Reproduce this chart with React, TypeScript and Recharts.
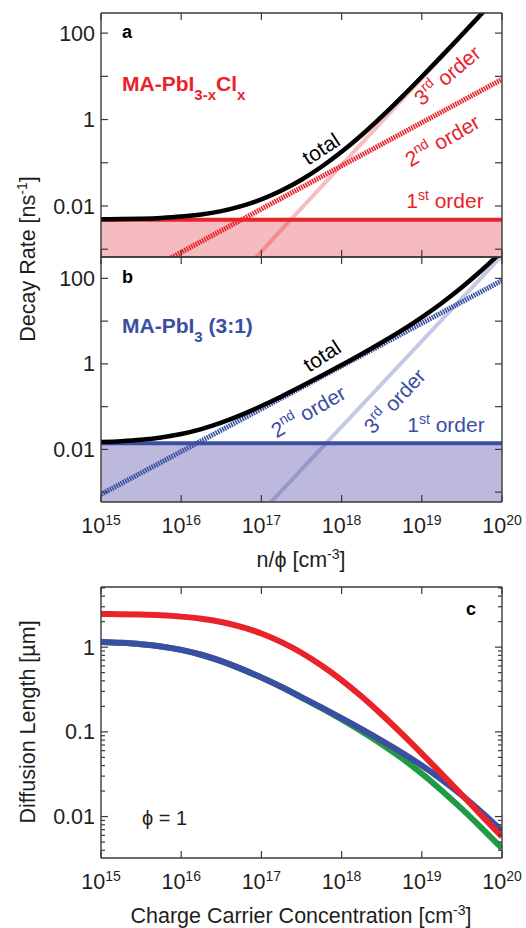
import React from 'react';
import { ComposedChart, Line, Area, XAxis, YAxis } from 'recharts';

const FONT = '"Liberation Sans", Arial, Helvetica, sans-serif';
const AXIS = '#3a3a3a';
const INK = '#1e1e1e';
const RED = '#e8232a';
const BLUE = '#3a4ea3';
const GREEN = '#1f9a45';
const PINK = '#f6bbbe';
const LAVENDER = '#bcb9dc';
const FS = 21.5;
const SUP = 14;

// carrier density grid (quarter decades) and end points for straight lines
const N = [
  1e15, 1.78e15, 3.16e15, 5.62e15, 1e16, 1.78e16, 3.16e16, 5.62e16, 1e17, 1.78e17, 3.16e17,
  5.62e17, 1e18, 1.78e18, 3.16e18, 5.62e18, 1e19, 1.78e19, 3.16e19, 5.62e19, 1e20,
];
const N_ENDS = [1e15, 1e20];
const X_DOMAIN = [1e15, 1e20];
const X_TICKS = [1e15, 1e16, 1e17, 1e18, 1e19, 1e20];

// panel a: MA-PbI3-xClx decay rates [ns^-1]
const A_FIRST = [0.00483, 0.00483];
const A_SECOND = [8.5e-5, 8.5];
const A_THIRD = [8.9e-8, 891];
const A_TOTAL = [
  0.00492, 0.00498, 0.0051, 0.00531, 0.00569, 0.00637, 0.00761, 0.0099, 0.01423, 0.0228, 0.0406,
  0.0809, 0.179, 0.438, 1.165, 3.3, 9.77, 29.7, 91.8, 287, 900,
];

// panel b: MA-PbI3 (3:1) decay rates [ns^-1]
const B_FIRST = [0.014, 0.014];
const B_SECOND = [8.9e-4, 89.1];
const B_THIRD = [3.4e-8, 339];
const B_TOTAL = [
  0.0149, 0.0156, 0.0168, 0.019, 0.0229, 0.0298, 0.0422, 0.0642, 0.1034, 0.173, 0.299, 0.526,
  0.939, 1.706, 3.171, 6.09, 12.31, 26.6, 62.1, 157, 428,
];

// panel c: diffusion length [um]
const C_RED = [
  2.466, 2.451, 2.423, 2.374, 2.293, 2.168, 1.983, 1.739, 1.45, 1.146, 0.859, 0.608, 0.409, 0.261,
  0.16, 0.0952, 0.0553, 0.0317, 0.0181, 0.0102, 0.00577,
];
const C_BLUE = [
  1.15, 1.124, 1.083, 1.019, 0.928, 0.813, 0.683, 0.554, 0.437, 0.338, 0.257, 0.194, 0.145,
  0.1075, 0.0788, 0.0569, 0.04, 0.0272, 0.0178, 0.0112, 0.00679,
];
const C_GREEN = [
  1.15, 1.124, 1.083, 1.019, 0.928, 0.813, 0.683, 0.554, 0.437, 0.338, 0.254, 0.19, 0.14,
  0.1012, 0.0715, 0.0489, 0.0321, 0.0202, 0.0123, 0.00726, 0.00421,
];

const A_DOMAIN = [0.000661, 291.7];
const B_DOMAIN = [0.000589, 316];
const C_DOMAIN = [0.00324, 5.13];

const RATE_TICKS = [0.001, 0.01, 0.1, 1, 10, 100];
const RATE_LABELS = [0.01, 1, 100];
const LEN_TICKS = [
  0.004, 0.005, 0.006, 0.007, 0.008, 0.009, 0.01, 0.02, 0.03, 0.04, 0.05, 0.06, 0.07, 0.08, 0.09,
  0.1, 0.2, 0.3, 0.4, 0.5, 0.6, 0.7, 0.8, 0.9, 1, 2, 3, 4, 5,
];
const LEN_LABELS = [0.01, 0.1, 1];

const pts = (xs: number[], ys: number[]) => xs.map((n, i) => ({ n, v: ys[i] }));
const near = (list: number[], v: number) => list.some((m) => Math.abs(m - v) / m < 1e-6);

const tickX = (side: 'top' | 'bottom', label: boolean) => (p: any) => {
  const { x, y, payload } = p;
  const dir = side === 'bottom' ? -1 : 1;
  return (
    <g>
      <line x1={x} y1={y} x2={x} y2={y + dir * 7} stroke={AXIS} strokeWidth={1.2} />
      {label && (
        <text x={x} y={y + 31} textAnchor="middle" fontSize={FS} fill={INK} fontFamily={FONT}>
          10
          <tspan dy={-8.5} fontSize={SUP}>
            {Math.round(Math.log10(payload.value))}
          </tspan>
        </text>
      )}
    </g>
  );
};

const tickY = (side: 'left' | 'right', labels: number[], major: number[]) => (p: any) => {
  const { x, y, payload } = p;
  const v = payload.value;
  const dir = side === 'left' ? 1 : -1;
  const len = near(major, v) ? 7 : 4;
  return (
    <g>
      <line x1={x} y1={y} x2={x + dir * len} y2={y} stroke={AXIS} strokeWidth={1.2} />
      {side === 'left' && near(labels, v) && (
        <text x={x - 6} y={y + 7.5} textAnchor="end" fontSize={FS} fill={INK} fontFamily={FONT}>
          {String(v)}
        </text>
      )}
    </g>
  );
};

function frame(
  bottomH: number,
  xLabels: boolean,
  yDomain: number[],
  yTicks: number[],
  yLabels: number[],
  yMajor: number[]
) {
  const axisLine = { stroke: AXIS, strokeWidth: 1.4 };
  const common = {
    type: 'number' as const,
    scale: 'log' as const,
    allowDataOverflow: true,
    interval: 0 as const,
    tickSize: 0,
    tickMargin: 0,
    tickLine: false,
    axisLine,
  };
  return [
    <XAxis key="xb" xAxisId="b" dataKey="n" domain={X_DOMAIN} ticks={X_TICKS} height={bottomH} tick={tickX('bottom', xLabels)} {...common} />,
    <XAxis key="xt" xAxisId="t" orientation="top" dataKey="n" domain={X_DOMAIN} ticks={X_TICKS} height={7} tick={tickX('top', false)} {...common} />,
    <YAxis key="yl" yAxisId="l" domain={yDomain} ticks={yTicks} width={60} tick={tickY('left', yLabels, yMajor)} {...common} />,
    <YAxis key="yr" yAxisId="r" orientation="right" domain={yDomain} ticks={yTicks} width={10} tick={tickY('right', yLabels, yMajor)} {...common} />,
  ];
}

const lineProps = {
  xAxisId: 'b',
  yAxisId: 'l',
  dataKey: 'v',
  dot: false,
  activeDot: false,
  isAnimationActive: false,
} as const;

function Sup({ base, sup, rest }: { base: string; sup: string; rest?: string }) {
  return (
    <>
      {base}
      <tspan dy={-8.5} fontSize={SUP}>
        {sup}
      </tspan>
      <tspan dy={8.5}>{rest}</tspan>
    </>
  );
}

function Rot({ x, y, a, color, children }: { x: number; y: number; a: number; color: string; children: React.ReactNode }) {
  return (
    <text x={x} y={y} transform={`rotate(${a} ${x} ${y})`} textAnchor="middle" fontSize={21} fill={color} fontFamily={FONT}>
      {children}
    </text>
  );
}

export default function App() {
  return (
    <div style={{ position: 'absolute', left: 0, top: 0, width: 526, height: 928, background: '#fff' }}>
      <div style={{ position: 'absolute', left: 0, top: 0 }}>
        <ComposedChart width={526} height={262} margin={{ top: 6, right: 14, bottom: 0, left: 41 }}>
          {frame(5, false, A_DOMAIN, RATE_TICKS, RATE_LABELS, RATE_TICKS)}
          <Area {...lineProps} type="linear" data={pts(N_ENDS, A_FIRST)} baseValue={A_DOMAIN[0]} fill={PINK} fillOpacity={1} stroke="none" />
          <Line {...lineProps} type="linear" data={pts(N_ENDS, A_THIRD)} stroke={RED} strokeOpacity={0.3} strokeWidth={4} />
          <Line {...lineProps} type="linear" data={pts(N_ENDS, A_FIRST)} stroke={RED} strokeWidth={4} />
          <Line {...lineProps} type="linear" data={pts(N_ENDS, A_SECOND)} stroke={RED} strokeWidth={5} strokeDasharray="1.6 0.9" />
          <Line {...lineProps} type="monotone" data={pts(N, A_TOTAL)} stroke="#000" strokeWidth={4.5} />
        </ComposedChart>
      </div>
      <div style={{ position: 'absolute', left: 0, top: 250 }}>
        <ComposedChart width={526} height={290} margin={{ top: 0, right: 14, bottom: 0, left: 41 }}>
          {frame(38, true, B_DOMAIN, RATE_TICKS, RATE_LABELS, RATE_TICKS)}
          <Area {...lineProps} type="linear" data={pts(N_ENDS, B_FIRST)} baseValue={B_DOMAIN[0]} fill={LAVENDER} fillOpacity={1} stroke="none" />
          <Line {...lineProps} type="linear" data={pts(N_ENDS, B_THIRD)} stroke={BLUE} strokeOpacity={0.3} strokeWidth={4} />
          <Line {...lineProps} type="linear" data={pts(N_ENDS, B_FIRST)} stroke={BLUE} strokeWidth={4} />
          <Line {...lineProps} type="linear" data={pts(N_ENDS, B_SECOND)} stroke={BLUE} strokeWidth={5} strokeDasharray="1.6 0.9" />
          <Line {...lineProps} type="monotone" data={pts(N, B_TOTAL)} stroke="#000" strokeWidth={4.5} />
        </ComposedChart>
      </div>
      <div style={{ position: 'absolute', left: 0, top: 580 }}>
        <ComposedChart width={526} height={320} margin={{ top: 0, right: 14, bottom: 0, left: 41 }}>
          {frame(42, true, C_DOMAIN, LEN_TICKS, LEN_LABELS, LEN_LABELS)}
          <Line {...lineProps} type="monotone" data={pts(N, C_GREEN)} stroke={GREEN} strokeWidth={6} />
          <Line {...lineProps} type="monotone" data={pts(N, C_BLUE)} stroke={BLUE} strokeWidth={6} />
          <Line {...lineProps} type="monotone" data={pts(N, C_RED)} stroke={RED} strokeWidth={6} />
        </ComposedChart>
      </div>
      <svg width={526} height={928} style={{ position: 'absolute', left: 0, top: 0, pointerEvents: 'none' }} fontFamily={FONT}>
        <text transform="rotate(-90)" x={-259} y={35} textAnchor="middle" fontSize={FS} fill={INK}>
          <Sup base="Decay Rate [ns" sup="-1" rest="]" />
        </text>
        <text transform="rotate(-90)" x={-722} y={35} textAnchor="middle" fontSize={FS} fill={INK}>
          Diffusion Length [µm]
        </text>
        <text x={301} y={567} textAnchor="middle" fontSize={FS} fill={INK}>
          <Sup base="n/ϕ [cm" sup="-3" rest="]" />
        </text>
        <text x={301} y={923} textAnchor="middle" fontSize={FS} fill={INK}>
          <Sup base="Charge Carrier Concentration [cm" sup="-3" rest="]" />
        </text>

        <text x={122} y={38} fontSize={18} fontWeight="bold" fill="#000">a</text>
        <text x={122} y={283} fontSize={18} fontWeight="bold" fill="#000">b</text>
        <text x={466} y={615} fontSize={18} fontWeight="bold" fill="#000">c</text>

        <text x={122} y={91} fontSize={21} fontWeight="bold" fill={RED}>
          MA-PbI
          <tspan dy={9} fontSize={15}>3-x</tspan>
          <tspan dy={-9}>Cl</tspan>
          <tspan dy={9} fontSize={15}>x</tspan>
        </text>
        <text x={122} y={333} fontSize={21} fontWeight="bold" fill={BLUE}>
          MA-PbI
          <tspan dy={9} fontSize={15}>3</tspan>
          <tspan dy={-9}> (3:1)</tspan>
        </text>

        <Rot x={325} y={155} a={-33} color="#000">total</Rot>
        <Rot x={452} y={81} a={-40} color={RED}>
          <Sup base="3" sup="rd" rest=" order" />
        </Rot>
        <Rot x={446} y={147} a={-30} color={RED}>
          <Sup base="2" sup="nd" rest=" order" />
        </Rot>
        <Rot x={445} y={208} a={0} color={RED}>
          <Sup base="1" sup="st" rest=" order" />
        </Rot>

        <Rot x={326} y={362} a={-33} color="#000">total</Rot>
        <Rot x={312} y={418} a={-30} color={BLUE}>
          <Sup base="2" sup="nd" rest=" order" />
        </Rot>
        <Rot x={400} y={406} a={-47} color={BLUE}>
          <Sup base="3" sup="rd" rest=" order" />
        </Rot>
        <Rot x={446} y={432} a={0} color={BLUE}>
          <Sup base="1" sup="st" rest=" order" />
        </Rot>

        <text x={142} y={825} fontSize={20} fill={INK}>ϕ = 1</text>
      </svg>
    </div>
  );
}
